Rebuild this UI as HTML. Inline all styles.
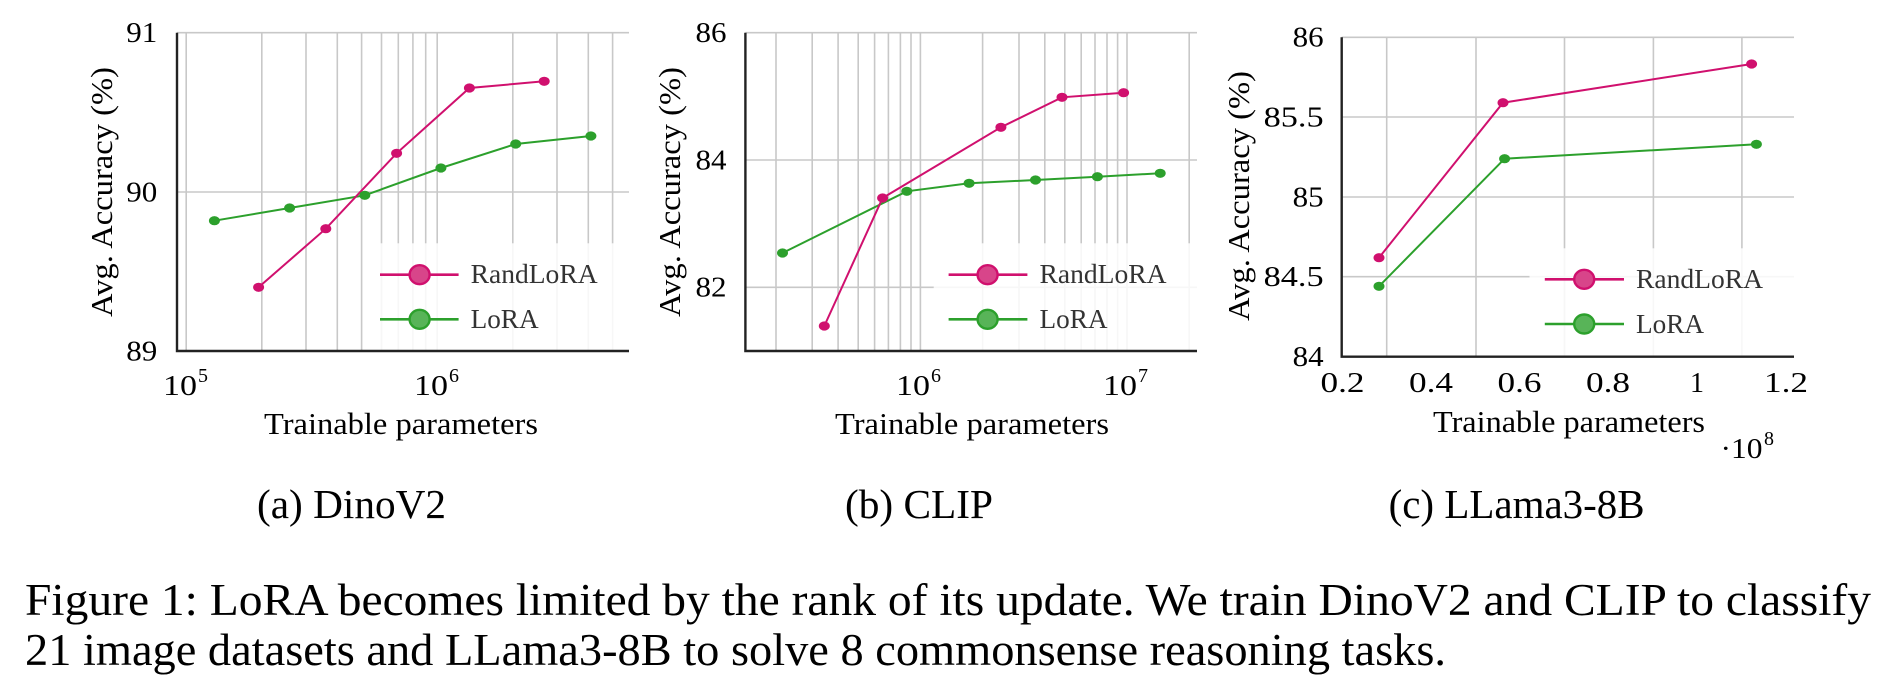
<!DOCTYPE html>
<html><head><meta charset="utf-8"><style>
html,body{margin:0;padding:0;background:#fff;}
svg{display:block;}
text{font-family:"Liberation Serif",serif;fill:#000;}
.g{stroke:#c8c8c8;stroke-width:1.6;fill:none;}
.ax{stroke:#222;stroke-width:2.4;fill:none;}
.r{stroke:#d0106e;stroke-width:2;fill:none;}
.l{stroke:#2ca02c;stroke-width:2;fill:none;}
.rm{fill:#d0106e;}
.lm{fill:#2ca02c;}
.lg{fill:#333;}
</style></head><body>
<svg width="1890" height="689" viewBox="0 0 1890 689" xmlns="http://www.w3.org/2000/svg">
<!-- ===== Panel A ===== -->
<g class="g">
<line x1="186.2" y1="32.7" x2="186.2" y2="351"/><line x1="261.8" y1="32.7" x2="261.8" y2="351"/><line x1="306" y1="32.7" x2="306" y2="351"/><line x1="337.3" y1="32.7" x2="337.3" y2="351"/><line x1="361.6" y1="32.7" x2="361.6" y2="351"/><line x1="381.5" y1="32.7" x2="381.5" y2="351"/><line x1="398.3" y1="32.7" x2="398.3" y2="351"/><line x1="412.9" y1="32.7" x2="412.9" y2="351"/><line x1="425.7" y1="32.7" x2="425.7" y2="351"/><line x1="437.2" y1="32.7" x2="437.2" y2="351"/><line x1="512.8" y1="32.7" x2="512.8" y2="351"/><line x1="557" y1="32.7" x2="557" y2="351"/><line x1="588.3" y1="32.7" x2="588.3" y2="351"/><line x1="612.6" y1="32.7" x2="612.6" y2="351"/>
<line x1="177" y1="32.7" x2="629" y2="32.7"/><line x1="177" y1="192" x2="629" y2="192"/>
</g>
<polyline class="l" points="214.4,220.7 289.6,208 364.8,195.3 440.9,168 515.7,144 590.9,136"/>
<polyline class="r" points="258.6,287.3 325.8,228.7 396.6,153.3 469.4,88 544.2,81.3"/>
<g class="lm"><ellipse cx="214.4" cy="220.7" rx="5.5" ry="4.6"/><ellipse cx="289.6" cy="208" rx="5.5" ry="4.6"/><ellipse cx="364.8" cy="195.3" rx="5.5" ry="4.6"/><ellipse cx="440.9" cy="168" rx="5.5" ry="4.6"/><ellipse cx="515.7" cy="144" rx="5.5" ry="4.6"/><ellipse cx="590.9" cy="136" rx="5.5" ry="4.6"/></g>
<g class="rm"><ellipse cx="258.6" cy="287.3" rx="5.5" ry="4.6"/><ellipse cx="325.8" cy="228.7" rx="5.5" ry="4.6"/><ellipse cx="396.6" cy="153.3" rx="5.5" ry="4.6"/><ellipse cx="469.4" cy="88" rx="5.5" ry="4.6"/><ellipse cx="544.2" cy="81.3" rx="5.5" ry="4.6"/></g>
<rect x="380" y="243.3" width="249" height="107" fill="#fff" fill-opacity="0.85"/>
<line x1="380" y1="274.7" x2="458.6" y2="274.7" class="r" style="stroke-width:2.6"/>
<ellipse cx="419.6" cy="274.7" rx="10" ry="9.5" fill="#d8458a" stroke="#d0106e" stroke-width="2.4"/>
<line x1="380" y1="319.3" x2="458.6" y2="319.3" class="l" style="stroke-width:2.6"/>
<ellipse cx="419.6" cy="319.3" rx="10" ry="9.5" fill="#58b458" stroke="#2ca02c" stroke-width="2.4"/>
<text class="lg" x="470.6" y="283" font-size="27" textLength="127" lengthAdjust="spacingAndGlyphs">RandLoRA</text>
<text class="lg" x="470.6" y="328" font-size="27" textLength="68" lengthAdjust="spacingAndGlyphs">LoRA</text>
<path class="ax" d="M177,32.7 V351 H629"/>
<g font-size="28">
<text x="157.3" y="42" text-anchor="end" textLength="31" lengthAdjust="spacingAndGlyphs">91</text>
<text x="157.3" y="201.5" text-anchor="end" textLength="31" lengthAdjust="spacingAndGlyphs">90</text>
<text x="157.3" y="360.5" text-anchor="end" textLength="31" lengthAdjust="spacingAndGlyphs">89</text>
<text x="163" y="395" textLength="34" lengthAdjust="spacingAndGlyphs">10</text><text x="198" y="382" font-size="20">5</text>
<text x="414" y="395" textLength="34" lengthAdjust="spacingAndGlyphs">10</text><text x="449" y="382" font-size="20">6</text>
</g>
<text x="264" y="434" font-size="31" textLength="274" lengthAdjust="spacingAndGlyphs">Trainable parameters</text>
<text transform="translate(112,192) rotate(-90)" text-anchor="middle" font-size="31" textLength="250" lengthAdjust="spacingAndGlyphs">Avg. Accuracy (%)</text>

<!-- ===== Panel B ===== -->
<g class="g">
<line x1="776" y1="32.7" x2="776" y2="351"/><line x1="812.2" y1="32.7" x2="812.2" y2="351"/><line x1="838.1" y1="32.7" x2="838.1" y2="351"/><line x1="858.2" y1="32.7" x2="858.2" y2="351"/><line x1="874.6" y1="32.7" x2="874.6" y2="351"/><line x1="888.4" y1="32.7" x2="888.4" y2="351"/><line x1="900.4" y1="32.7" x2="900.4" y2="351"/><line x1="911" y1="32.7" x2="911" y2="351"/><line x1="920.4" y1="32.7" x2="920.4" y2="351"/><line x1="982.6" y1="32.7" x2="982.6" y2="351"/><line x1="1019" y1="32.7" x2="1019" y2="351"/><line x1="1044.8" y1="32.7" x2="1044.8" y2="351"/><line x1="1064.8" y1="32.7" x2="1064.8" y2="351"/><line x1="1081.2" y1="32.7" x2="1081.2" y2="351"/><line x1="1095" y1="32.7" x2="1095" y2="351"/><line x1="1107" y1="32.7" x2="1107" y2="351"/><line x1="1117.6" y1="32.7" x2="1117.6" y2="351"/><line x1="1127" y1="32.7" x2="1127" y2="351"/><line x1="1189.2" y1="32.7" x2="1189.2" y2="351"/>
<line x1="745.4" y1="32.7" x2="1197" y2="32.7"/><line x1="745.4" y1="160" x2="1197" y2="160"/><line x1="745.4" y1="287.3" x2="1197" y2="287.3"/>
</g>
<polyline class="l" points="782.5,253 906.8,191.3 969.1,183.3 1035.5,180 1097.4,176.7 1160.2,173.3"/>
<polyline class="r" points="824.3,326 882.6,198 1000.9,127.3 1062,97.3 1123.6,92.7"/>
<g class="lm"><ellipse cx="782.5" cy="253" rx="5.5" ry="4.6"/><ellipse cx="906.8" cy="191.3" rx="5.5" ry="4.6"/><ellipse cx="969.1" cy="183.3" rx="5.5" ry="4.6"/><ellipse cx="1035.5" cy="180" rx="5.5" ry="4.6"/><ellipse cx="1097.4" cy="176.7" rx="5.5" ry="4.6"/><ellipse cx="1160.2" cy="173.3" rx="5.5" ry="4.6"/></g>
<g class="rm"><ellipse cx="824.3" cy="326" rx="5.5" ry="4.6"/><ellipse cx="882.6" cy="198" rx="5.5" ry="4.6"/><ellipse cx="1000.9" cy="127.3" rx="5.5" ry="4.6"/><ellipse cx="1062" cy="97.3" rx="5.5" ry="4.6"/><ellipse cx="1123.6" cy="92.7" rx="5.5" ry="4.6"/></g>
<rect x="933.7" y="243.3" width="263.3" height="107" fill="#fff" fill-opacity="0.85"/>
<line x1="948.6" y1="274.7" x2="1027.4" y2="274.7" class="r" style="stroke-width:2.6"/>
<ellipse cx="987.6" cy="274.7" rx="10" ry="9.5" fill="#d8458a" stroke="#d0106e" stroke-width="2.4"/>
<line x1="948.6" y1="319.3" x2="1027.4" y2="319.3" class="l" style="stroke-width:2.6"/>
<ellipse cx="987.6" cy="319.3" rx="10" ry="9.5" fill="#58b458" stroke="#2ca02c" stroke-width="2.4"/>
<text class="lg" x="1039.5" y="283" font-size="27" textLength="127" lengthAdjust="spacingAndGlyphs">RandLoRA</text>
<text class="lg" x="1039.5" y="328" font-size="27" textLength="68" lengthAdjust="spacingAndGlyphs">LoRA</text>
<path class="ax" d="M745.4,32.7 V351 H1197"/>
<g font-size="28">
<text x="726.5" y="42" text-anchor="end" textLength="31" lengthAdjust="spacingAndGlyphs">86</text>
<text x="726.5" y="169.5" text-anchor="end" textLength="31" lengthAdjust="spacingAndGlyphs">84</text>
<text x="726.5" y="296.5" text-anchor="end" textLength="31" lengthAdjust="spacingAndGlyphs">82</text>
<text x="896" y="395" textLength="34" lengthAdjust="spacingAndGlyphs">10</text><text x="931" y="382" font-size="20">6</text>
<text x="1103" y="395" textLength="34" lengthAdjust="spacingAndGlyphs">10</text><text x="1138" y="382" font-size="20">7</text>
</g>
<text x="835" y="434" font-size="31" textLength="274" lengthAdjust="spacingAndGlyphs">Trainable parameters</text>
<text transform="translate(680,192) rotate(-90)" text-anchor="middle" font-size="31" textLength="250" lengthAdjust="spacingAndGlyphs">Avg. Accuracy (%)</text>

<!-- ===== Panel C ===== -->
<g class="g">
<line x1="1386.7" y1="37.3" x2="1386.7" y2="356.7"/><line x1="1476" y1="37.3" x2="1476" y2="356.7"/><line x1="1564.5" y1="37.3" x2="1564.5" y2="356.7"/><line x1="1653.4" y1="37.3" x2="1653.4" y2="356.7"/><line x1="1741.9" y1="37.3" x2="1741.9" y2="356.7"/>
<line x1="1341.7" y1="37.3" x2="1794" y2="37.3"/><line x1="1341.7" y1="117" x2="1794" y2="117"/><line x1="1341.7" y1="197" x2="1794" y2="197"/><line x1="1341.7" y1="276.7" x2="1794" y2="276.7"/>
</g>
<polyline class="l" points="1379,286.3 1504.6,158.7 1756.4,144.3"/>
<polyline class="r" points="1379,257.7 1503,102.7 1751.6,64"/>
<g class="lm"><ellipse cx="1379" cy="286.3" rx="5.5" ry="4.6"/><ellipse cx="1504.6" cy="158.7" rx="5.5" ry="4.6"/><ellipse cx="1756.4" cy="144.3" rx="5.5" ry="4.6"/></g>
<g class="rm"><ellipse cx="1379" cy="257.7" rx="5.5" ry="4.6"/><ellipse cx="1503" cy="102.7" rx="5.5" ry="4.6"/><ellipse cx="1751.6" cy="64" rx="5.5" ry="4.6"/></g>
<rect x="1529.5" y="248.3" width="264.5" height="107.4" fill="#fff" fill-opacity="0.85"/>
<line x1="1544.8" y1="279.3" x2="1624" y2="279.3" class="r" style="stroke-width:2.6"/>
<ellipse cx="1584.2" cy="279.3" rx="10" ry="9.5" fill="#d8458a" stroke="#d0106e" stroke-width="2.4"/>
<line x1="1544.8" y1="324" x2="1624" y2="324" class="l" style="stroke-width:2.6"/>
<ellipse cx="1584.2" cy="324" rx="10" ry="9.5" fill="#58b458" stroke="#2ca02c" stroke-width="2.4"/>
<text class="lg" x="1636" y="288" font-size="27" textLength="127" lengthAdjust="spacingAndGlyphs">RandLoRA</text>
<text class="lg" x="1636" y="333" font-size="27" textLength="68" lengthAdjust="spacingAndGlyphs">LoRA</text>
<path class="ax" d="M1341.7,37.3 V356.7 H1794"/>
<g font-size="28">
<text x="1323.6" y="46.5" text-anchor="end" textLength="31" lengthAdjust="spacingAndGlyphs">86</text>
<text x="1323.6" y="126.5" text-anchor="end" textLength="60" lengthAdjust="spacingAndGlyphs">85.5</text>
<text x="1323.6" y="206.5" text-anchor="end" textLength="31" lengthAdjust="spacingAndGlyphs">85</text>
<text x="1323.6" y="286" text-anchor="end" textLength="60" lengthAdjust="spacingAndGlyphs">84.5</text>
<text x="1323.6" y="366" text-anchor="end" textLength="31" lengthAdjust="spacingAndGlyphs">84</text>
<text x="1342.5" y="392" text-anchor="middle" textLength="44" lengthAdjust="spacingAndGlyphs">0.2</text>
<text x="1431" y="392" text-anchor="middle" textLength="44" lengthAdjust="spacingAndGlyphs">0.4</text>
<text x="1519.5" y="392" text-anchor="middle" textLength="44" lengthAdjust="spacingAndGlyphs">0.6</text>
<text x="1608" y="392" text-anchor="middle" textLength="44" lengthAdjust="spacingAndGlyphs">0.8</text>
<text x="1697" y="392" text-anchor="middle">1</text>
<text x="1786" y="392" text-anchor="middle" textLength="44" lengthAdjust="spacingAndGlyphs">1.2</text>
<text x="1720.5" y="458" textLength="42" lengthAdjust="spacingAndGlyphs">·10</text><text x="1764" y="445" font-size="20">8</text>
</g>
<text x="1433" y="432" font-size="31" textLength="272" lengthAdjust="spacingAndGlyphs">Trainable parameters</text>
<text transform="translate(1249,196) rotate(-90)" text-anchor="middle" font-size="31" textLength="250" lengthAdjust="spacingAndGlyphs">Avg. Accuracy (%)</text>

<!-- ===== Sub-captions ===== -->
<g font-size="41">
<text x="257" y="518" textLength="189" lengthAdjust="spacingAndGlyphs">(a) DinoV2</text>
<text x="845" y="518" textLength="148" lengthAdjust="spacingAndGlyphs">(b) CLIP</text>
<text x="1388.6" y="518" textLength="256" lengthAdjust="spacingAndGlyphs">(c) LLama3-8B</text>
</g>
<!-- ===== Figure caption ===== -->
<g font-size="45">
<text x="25" y="615" textLength="1846" lengthAdjust="spacingAndGlyphs">Figure 1: LoRA becomes limited by the rank of its update.  We train DinoV2 and CLIP to classify</text>
<text x="25" y="665" textLength="1421" lengthAdjust="spacingAndGlyphs">21 image datasets and LLama3-8B to solve 8 commonsense reasoning tasks.</text>
</g>
</svg>
</body></html>
